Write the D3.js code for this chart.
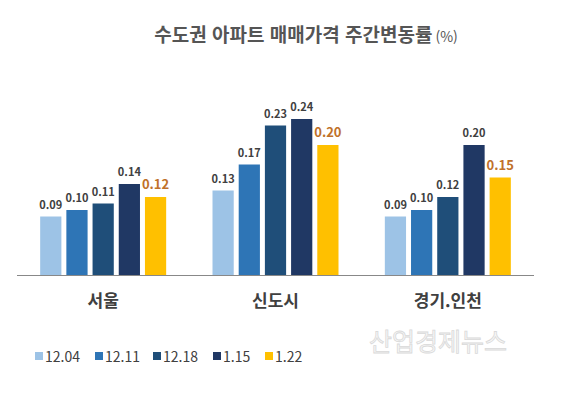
<!DOCTYPE html>
<html lang="ko">
<head>
<meta charset="utf-8">
<title>수도권 아파트 매매가격 주간변동률</title>
<script src="https://cdnjs.cloudflare.com/ajax/libs/d3/7.8.5/d3.min.js"></script>
<style>
  body { margin: 0; background: #fff; }
  svg { font-family: "Noto Sans CJK KR", "Noto Sans", sans-serif; }
</style>
</head>
<body>
<div id="chart"></div>
<script>
// data
var regions = ["서울", "신도시", "경기.인천"];
var weeks = ["12.04", "12.11", "12.18", "1.15", "1.22"];
var v1204 = [0.09, 0.13, 0.09];
var v1211 = [0.10, 0.17, 0.10];
var v1218 = [0.11, 0.23, 0.12];
var v0115 = [0.14, 0.24, 0.20];
var v0122 = [0.12, 0.20, 0.15];
var colors = ["#9dc3e6", "#2e75b6", "#1f4e79", "#203864", "#ffc000"];

var series = [v1204, v1211, v1218, v0115, v0122];
var rows = regions.map(function (r, i) {
  return { region: r, values: series.map(function (s, j) { return { week: weeks[j], v: s[i] }; }) };
});

var width = 567, height = 396;
var baseY = 275;

var svg = d3.select("#chart").append("svg")
  .attr("width", width)
  .attr("height", height);

// title
var title = svg.append("text")
  .attr("x", 306)
  .attr("y", 42)
  .attr("text-anchor", "middle")
  .attr("fill", "#555")
  .attr("font-weight", "bold");
title.append("tspan").attr("font-size", 19).text("수도권 아파트 매매가격 주간변동률");
title.append("tspan").attr("font-size", 14).attr("font-weight", "normal").attr("dx", 3).text("(%)");

var x0 = d3.scaleBand().domain(regions).range([17, 534]).paddingInner(0).paddingOuter(0);
var x1 = d3.scaleBand().domain(weeks).range([0, 126]).paddingInner(0.19);
var y = d3.scaleLinear().domain([0, 0.24]).range([baseY, baseY - 156]);

var groups = svg.selectAll("g.grp").data(rows).enter().append("g")
  .attr("class", "grp")
  .attr("transform", function (d) { return "translate(" + (x0(d.region) + x0.bandwidth() / 2 - 63) + ",0)"; });

groups.selectAll("rect").data(function (d) { return d.values; }).enter().append("rect")
  .attr("x", function (d) { return x1(d.week); })
  .attr("y", function (d) { return y(d.v); })
  .attr("width", x1.bandwidth())
  .attr("height", function (d) { return baseY - y(d.v); })
  .attr("fill", function (d, i) { return colors[i]; });

groups.selectAll("text.val").data(function (d) { return d.values; }).enter().append("text")
  .attr("class", "val")
  .attr("x", function (d) { return x1(d.week) + x1.bandwidth() / 2; })
  .attr("y", function (d) { return y(d.v) - 8; })
  .attr("text-anchor", "middle")
  .attr("font-weight", "bold")
  .attr("font-size", function (d, i) { return i == 4 ? 13 : 11; })
  .attr("fill", function (d, i) { return i == 4 ? "#c0712a" : "#404040"; })
  .text(function (d) { return d.v.toFixed(2); });

// baseline + category labels
var axis = svg.append("g")
  .attr("transform", "translate(0," + baseY + ")")
  .call(d3.axisBottom(x0).tickSize(0).tickPadding(20));
axis.select(".domain").attr("stroke", "#888").attr("d", "M17,0.5H534");
axis.selectAll(".tick text")
  .attr("font-family", "'Noto Sans CJK KR', sans-serif")
  .attr("font-size", 17)
  .attr("font-weight", "bold")
  .attr("fill", "#404040");

// legend
var legX = [35, 95, 153, 213, 265];
var leg = svg.selectAll("g.leg").data(weeks).enter().append("g")
  .attr("class", "leg")
  .attr("transform", function (d, i) { return "translate(" + legX[i] + ",357)"; });
leg.append("rect").attr("x", 0).attr("y", -5).attr("width", 8).attr("height", 8)
  .attr("fill", function (d, i) { return colors[i]; });
leg.append("text").attr("x", 10).attr("y", 5)
  .attr("font-size", 14).attr("fill", "#404040")
  .text(function (d) { return d; });

// watermark
svg.append("text")
  .attr("x", 438).attr("y", 351)
  .attr("text-anchor", "middle")
  .attr("font-size", 25)
  .attr("fill", "#f7f7f7")
  .attr("stroke", "#d9d9d9")
  .attr("stroke-width", 0.8)
  .text("산업경제뉴스");
</script>
</body>
</html>
